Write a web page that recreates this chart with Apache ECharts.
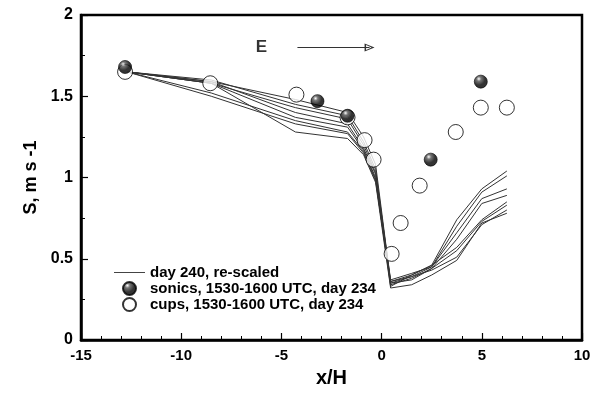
<!DOCTYPE html>
<html style="height: 100%">
<head>
	<meta charset="utf-8">
</head>
<body style="height: 100%; margin: 0; background: #fff">
<div id="container" style="width: 601px; height: 393px"></div>
<script src="https://cdn.jsdelivr.net/npm/echarts@6/dist/echarts.min.js"></script>
<script type="text/javascript">
	// model runs (day 240, re-scaled), shared x positions
	var modelX = [-12.7, -8.5, -4.3, -1.7, -0.9, -0.3, 0.45, 1.5, 2.5, 3.75, 5, 6.25];
	var modelRuns = [
		[1.65, 1.59, 1.48, 1.40, 1.25, 1.08, 0.36, 0.40, 0.46, 0.74, 0.93, 1.04],
		[1.65, 1.60, 1.45, 1.38, 1.22, 1.05, 0.35, 0.39, 0.45, 0.70, 0.91, 1.01],
		[1.65, 1.58, 1.43, 1.36, 1.20, 1.03, 0.37, 0.41, 0.45, 0.66, 0.87, 0.93],
		[1.65, 1.59, 1.40, 1.33, 1.18, 1.02, 0.34, 0.38, 0.44, 0.62, 0.84, 0.89],
		[1.65, 1.58, 1.37, 1.31, 1.17, 1.00, 0.33, 0.40, 0.46, 0.57, 0.74, 0.85],
		[1.65, 1.52, 1.35, 1.28, 1.16, 0.99, 0.35, 0.37, 0.44, 0.55, 0.73, 0.83],
		[1.65, 1.50, 1.33, 1.27, 1.15, 0.98, 0.36, 0.39, 0.43, 0.51, 0.71, 0.80],
		[1.65, 1.58, 1.28, 1.24, 1.14, 0.97, 0.32, 0.34, 0.40, 0.49, 0.72, 0.78]
	];

	var sonics = [[-12.8, 1.68], [-3.2, 1.47], [-1.7, 1.38], [2.45, 1.11], [4.95, 1.59]];
	var cups = [
		[-12.8, 1.65], [-8.55, 1.58], [-4.25, 1.51], [-1.7, 1.37], [-0.85, 1.23],
		[-0.4, 1.11], [0.5, 0.53], [0.95, 0.72], [1.9, 0.95], [3.7, 1.28],
		[4.95, 1.43], [6.25, 1.43]
	];

	var lineName = 'day 240, re-scaled';
	var sonicName = 'sonics, 1530-1600 UTC, day 234';
	var cupName = 'cups, 1530-1600 UTC, day 234';

	var font = 'Liberation Sans, Arial, Helvetica, sans-serif';

	var series = [];
	modelRuns.forEach(function (run) {
		series.push({
			name: lineName,
			type: 'line',
			symbol: 'none',
			data: run.map(function (v, i) { return [modelX[i], v]; }),
			lineStyle: { color: '#333', width: 1 },
			itemStyle: { color: '#444' },
			z: 2
		});
	});

	series.push({
		name: cupName,
		type: 'scatter',
		symbol: 'circle',
		symbolSize: 15,
		data: cups,
		itemStyle: { color: '#fff', borderColor: '#000', borderWidth: 1 },
		z: 3
	});

	series.push({
		name: sonicName,
		type: 'scatter',
		symbol: 'circle',
		symbolSize: 13,
		data: sonics,
		itemStyle: {
			color: {
				type: 'radial', x: 0.36, y: 0.3, r: 0.75,
				colorStops: [
					{ offset: 0, color: '#fff' },
					{ offset: 0.22, color: '#555' },
					{ offset: 0.6, color: '#000' },
					{ offset: 1, color: '#000' }
				]
			},
			borderColor: '#000',
			borderWidth: 0.8
		},
		z: 4
	});

	// wind direction annotation
	series.push({
		type: 'scatter',
		symbolSize: 0,
		silent: true,
		data: [[-6.0, 1.8]],
		label: {
			show: true, formatter: 'E', position: 'inside',
			color: '#000', fontSize: 17, fontWeight: 'bold', fontFamily: font
		},
		markLine: {
			silent: true,
			symbol: ['none', 'path://M5,0 L10,10 L0,10 Z M5,3 L2,8.5 L8,8.5 Z'],
			symbolSize: [8, 10],
			lineStyle: { color: '#333', width: 1, type: 'solid' },
			itemStyle: { color: '#333' },
			label: { show: false },
			data: [[{ coord: [-4.2, 1.8] }, { coord: [-0.6, 1.8] }]]
		}
	});

	var dom = document.getElementById("container");
	var myChart = echarts.init(dom);

	var option = {
		animation: false,
		backgroundColor: '#fff',
		grid: {
			left: 81, right: 19, top: 15, bottom: 53,
			show: true, borderColor: '#000', borderWidth: 2.5, backgroundColor: 'transparent'
		},
		legend: {
			data: [
				{ name: lineName, icon: 'path://M0,0 L31,0 L31,1 L0,1 Z' },
				{ name: sonicName },
				{ name: cupName }
			],
			orient: 'vertical',
			left: 109,
			top: 260,
			itemWidth: 31,
			itemHeight: 13,
			itemGap: 1,
			textStyle: { color: '#000', fontSize: 15, fontWeight: 'bold', fontFamily: font }
		},
		xAxis: {
			type: 'value',
			min: -15, max: 10, interval: 5,
			name: 'x/H',
			nameLocation: 'middle',
			nameGap: 28,
			nameTextStyle: { color: '#000', fontSize: 20, fontWeight: 'bold', fontFamily: font },
			axisLine: { onZero: false, lineStyle: { color: '#000', width: 2.5 } },
			axisTick: { inside: true, length: 7, lineStyle: { color: '#000', width: 1.2 } },
			minorTick: { show: true, splitNumber: 5, length: 4, lineStyle: { color: '#000', width: 1 } },
			splitLine: { show: false },
			axisLabel: { color: '#000', fontSize: 15, fontWeight: 'bold', fontFamily: font, margin: 8 }
		},
		yAxis: {
			type: 'value',
			min: 0, max: 2, interval: 0.5,
			name: 'S, m s -1',
			nameLocation: 'middle',
			nameGap: 40,
			nameTextStyle: { color: '#000', fontSize: 18, fontWeight: 'bold', fontFamily: font },
			axisLine: { onZero: false, lineStyle: { color: '#000', width: 2.5 } },
			axisTick: { inside: true, length: 7, lineStyle: { color: '#000', width: 1.2 } },
			minorTick: { show: true, splitNumber: 2, length: 4, lineStyle: { color: '#000', width: 1 } },
			splitLine: { show: false },
			axisLabel: { color: '#000', fontSize: 16, fontWeight: 'bold', fontFamily: font, margin: 8 }
		},
		series: series
	};

	myChart.setOption(option, true);
</script>
</body>
</html>
